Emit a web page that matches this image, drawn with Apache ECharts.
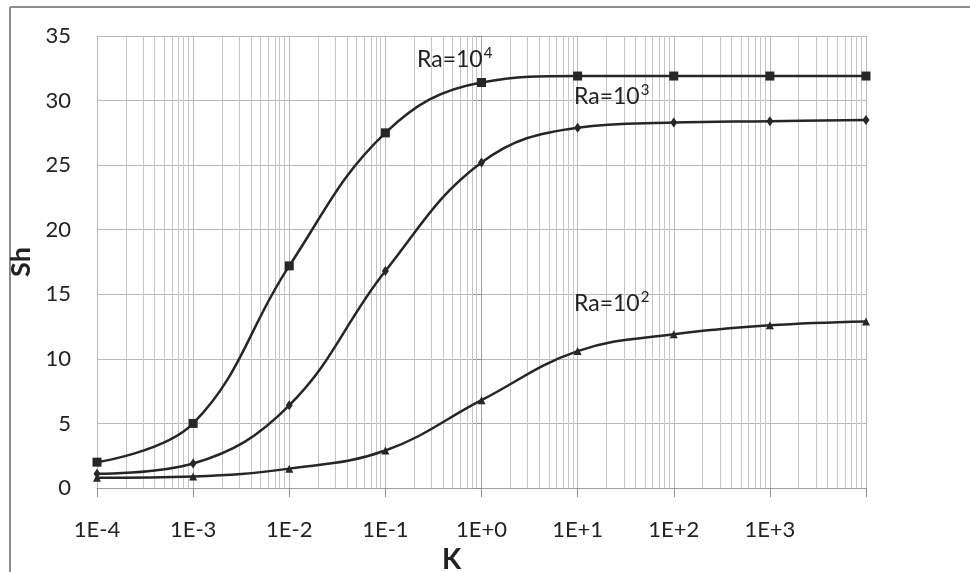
<!DOCTYPE html>
<html>
<head>
<meta charset="utf-8">
<script src="https://cdn.jsdelivr.net/npm/echarts@6/dist/echarts.min.js"></script>
<style>html,body{margin:0;padding:0;background:#fff}#c{width:970px;height:572px}</style>
</head>
<body>
<div id="c"></div>
<script>
// Data
var kValues = [1e-4, 1e-3, 1e-2, 1e-1, 1e0, 1e1, 1e2, 1e3, 1e4];
var shRa4 = [2.0, 5.0, 17.2, 27.5, 31.4, 31.9, 31.9, 31.9, 31.9];
var shRa3 = [1.1, 1.9, 6.4, 16.8, 25.2, 27.9, 28.3, 28.4, 28.5];
var shRa2 = [0.8, 0.9, 1.5, 2.9, 6.8, 10.6, 11.9, 12.6, 12.9];
var xTickLabels = ['1E-4', '1E-3', '1E-2', '1E-1', '1E+0', '1E+1', '1E+2', '1E+3', ''];
var yTicks = [0, 5, 10, 15, 20, 25, 30, 35];

function pairs(ys) {
  return kValues.map(function (k, i) { return [Math.log10(k), ys[i]]; });
}
var minorLines = [];
for (var d = -4; d < 4; d++) {
  for (var m = 2; m <= 9; m++) minorLines.push({ xAxis: Math.log10(m) + d });
}

var font = 'Lato, "Open Sans", sans-serif';
var lineColor = '#262626';
var supStyle = { fontSize: 15, fontFamily: font, fill: '#222', verticalAlign: 'top', padding: [0, 0, 12, 1] };
var baseStyle = { fontSize: 23, fontFamily: font, fill: '#222' };
var chart = echarts.init(document.getElementById('c'));
chart.setOption({
  animation: false,
  backgroundColor: '#fff',
  grid: { left: 97, right: 104, top: 36, bottom: 84, containLabel: false, outerBoundsMode: 'none' },
  xAxis: {
    type: 'value', min: -4, max: 4, interval: 1,
    axisLine: { show: true, lineStyle: { color: '#a0a0a0', width: 1 } },
    axisTick: { show: true, inside: false, length: 9, lineStyle: { color: '#909090' } },
    splitLine: { show: true, lineStyle: { color: '#b8b8b8', width: 1 } },
    axisLabel: {
      margin: 31, fontSize: 22, color: '#222', fontFamily: font,
      formatter: function (v) { return xTickLabels[Math.round(v) + 4]; }
    },
    name: 'K', nameLocation: 'middle', nameGap: 50,
    nameTextStyle: { fontSize: 28, fontWeight: 'bold', color: '#222', fontFamily: font, padding: [0, 60, 0, 0] }
  },
  yAxis: {
    type: 'value', min: yTicks[0], max: yTicks[yTicks.length - 1], interval: 5,
    axisLine: { show: true, lineStyle: { color: '#a0a0a0', width: 1 } },
    axisTick: { show: true, inside: false, length: 8, lineStyle: { color: '#909090' } },
    splitLine: { show: true, lineStyle: { color: '#b8b8b8', width: 1 } },
    axisLabel: { margin: 26, fontSize: 22, color: '#222', fontFamily: font },
    name: 'Sh', nameLocation: 'middle', nameGap: 46, nameRotate: 90,
    nameTextStyle: { fontSize: 27, fontWeight: 'bold', color: '#222', fontFamily: font }
  },
  series: [
    {
      type: 'line', data: [], silent: true, z: 1,
      markLine: {
        silent: true, symbol: 'none', animation: false, z: 1,
        label: { show: false },
        lineStyle: { color: '#c6c6c6', width: 1, type: 'solid' },
        data: minorLines
      }
    },
    {
      name: 'Ra=10^4', type: 'line', data: pairs(shRa4), smooth: 0.4, z: 5,
      symbol: 'rect', symbolSize: 9,
      lineStyle: { color: lineColor, width: 2.5 }, itemStyle: { color: lineColor }
    },
    {
      name: 'Ra=10^3', type: 'line', data: pairs(shRa3), smooth: 0.4, z: 5,
      symbol: 'diamond', symbolSize: [7, 10],
      lineStyle: { color: lineColor, width: 2.5 }, itemStyle: { color: lineColor }
    },
    {
      name: 'Ra=10^2', type: 'line', data: pairs(shRa2), smooth: 0.4, z: 5,
      symbol: 'triangle', symbolSize: 8,
      lineStyle: { color: lineColor, width: 2.5 }, itemStyle: { color: lineColor }
    }
  ],
  graphic: [
    { type: 'line', shape: { x1: 10, y1: 7, x2: 10, y2: 572 }, style: { stroke: '#8c8c8c', lineWidth: 2 } },
    { type: 'line', shape: { x1: 10, y1: 7, x2: 970, y2: 7 }, style: { stroke: '#8c8c8c', lineWidth: 2 } },
    { type: 'text', left: 417, top: 46, z: 10, style: { text: '{b|Ra=10}{s|4}', rich: { b: baseStyle, s: supStyle } } },
    { type: 'text', left: 574, top: 83, z: 10, style: { text: '{b|Ra=10}{s|3}', rich: { b: baseStyle, s: supStyle } } },
    { type: 'text', left: 574, top: 290, z: 10, style: { text: '{b|Ra=10}{s|2}', rich: { b: baseStyle, s: supStyle } } }
  ]
});
</script>
</body>
</html>
